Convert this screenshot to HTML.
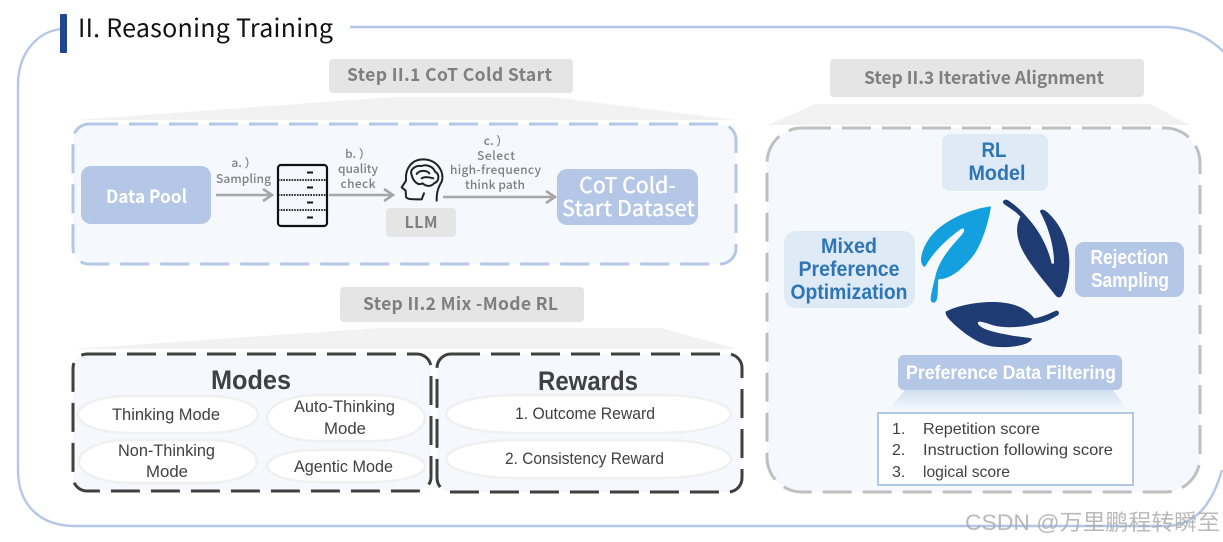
<!DOCTYPE html>
<html><head><meta charset="utf-8"><style>
html,body{margin:0;padding:0;background:#fff;width:1223px;height:542px;overflow:hidden}
svg{display:block}
.j{font-family:"Noto Sans CJK JP","Liberation Sans",sans-serif}
.l{font-family:"Liberation Sans","Noto Sans CJK SC",sans-serif}
</style></head><body>
<svg width="1223" height="542" viewBox="0 0 1223 542" xmlns="http://www.w3.org/2000/svg">
<defs>
<linearGradient id="g1" x1="0" y1="0" x2="0" y2="1"><stop offset="0" stop-color="#cfdff0"/><stop offset="1" stop-color="#f5f9fd"/></linearGradient>
<marker id="ah" markerWidth="14" markerHeight="16" refX="11" refY="7" orient="auto" markerUnits="userSpaceOnUse"><path d="M2 1L11 7L2 13" fill="none" stroke="#a6a6a6" stroke-width="2.600"/></marker>
</defs>

<!-- outer frame -->
<path d="M350 27H1165C1200 27 1223 48 1240 70M60 29C35 33 18 55 18 85V470C18 505 40 526 75 526H1165C1195 526 1212 505 1222 470" fill="none" stroke="#b4c7e7" stroke-width="2.400"/>
<rect x="60" y="14" width="7" height="39" rx="1" fill="#1f4690"/>
<text class="j" x="78" y="37" font-size="25" font-weight="400" fill="#111" textLength="255" lengthAdjust="spacing">II. Reasoning Training</text>

<!-- trapezoids -->
<path d="M75 120L395 97H552L736 120Z" fill="#f2f2f2"/>
<path d="M768 125L815 104H1150L1190 125Z" fill="#f2f2f2"/>
<path d="M72 349L380 328H660L738 349Z" fill="#f2f2f2"/>

<!-- step heads -->
<rect x="329" y="59" width="244" height="34" rx="4" fill="#e5e5e5"/>
<text class="j" x="347" y="81" font-size="17.500" font-weight="700" fill="#7f7f7f" textLength="205" lengthAdjust="spacing">Step II.1 CoT Cold Start</text>
<rect x="830" y="59" width="314" height="38" rx="4" fill="#e5e5e5"/>
<text class="j" x="864" y="84" font-size="17.500" font-weight="700" fill="#7f7f7f" textLength="240" lengthAdjust="spacing">Step II.3 Iterative Alignment</text>
<rect x="340" y="287" width="244" height="35" rx="4" fill="#e5e5e5"/>
<text class="j" x="363" y="310" font-size="17.500" font-weight="700" fill="#7f7f7f" textLength="195" lengthAdjust="spacing">Step II.2 Mix -Mode RL</text>

<!-- panels -->
<rect x="73" y="124" width="663" height="140" rx="16" fill="#f5f9fd" stroke="#b4c7e7" stroke-width="3" stroke-dasharray="29 11"/>
<rect x="767" y="128" width="433" height="364" rx="35" fill="#f5f9fd" stroke="#bfbfbf" stroke-width="3" stroke-dasharray="29 11"/>
<rect x="73" y="354" width="358" height="137" rx="14" fill="#f5f9fd" stroke="#404040" stroke-width="3" stroke-dasharray="29 11"/>
<rect x="437" y="354" width="305" height="138" rx="14" fill="#f5f9fd" stroke="#404040" stroke-width="3" stroke-dasharray="29 11"/>

<!-- panel 1 contents -->
<rect x="81" y="166" width="130" height="58" rx="10" fill="#b4c7e7"/>
<text class="j" x="106" y="203" font-size="18" font-weight="700" fill="#fff" textLength="81" lengthAdjust="spacingAndGlyphs">Data Pool</text>
<g class="j" font-size="12" fill="#7f7f7f" text-anchor="middle" font-weight="500">
<text x="244" y="167">a. ）</text><text x="243.500" y="183" textLength="55" lengthAdjust="spacing">Sampling</text>
<text x="358" y="158">b. ）</text><text x="358" y="173" textLength="40" lengthAdjust="spacing">quality</text><text x="358" y="188" textLength="35" lengthAdjust="spacing">check</text>
<text x="496" y="145">c. ）</text><text x="496" y="160" textLength="38" lengthAdjust="spacing">Select</text><text x="495.500" y="174" textLength="91" lengthAdjust="spacing">high-frequency</text><text x="495" y="189" textLength="60" lengthAdjust="spacing">think path</text>
</g>
<path d="M216 195H272" stroke="#a6a6a6" stroke-width="2.600" fill="none" marker-end="url(#ah)"/>
<path d="M329 195H393" stroke="#a6a6a6" stroke-width="2.600" fill="none" marker-end="url(#ah)"/>
<path d="M443 197H555" stroke="#a6a6a6" stroke-width="2.600" fill="none" marker-end="url(#ah)"/>
<!-- server -->
<rect x="278" y="165" width="49" height="61" rx="3" fill="#f5f9fd" stroke="#111" stroke-width="2.200"/>
<g stroke="#111" stroke-width="1.800" stroke-dasharray="1.600 1.100">
<path d="M278 180H327M278 195H327M278 210H327"/>
</g>
<g stroke="#111" stroke-width="2"><path d="M307 172.500H313M307 187.500H313M307 202.500H313M307 217.500H313"/></g>
<!-- brain -->
<g transform="translate(270,150) scale(.3333)" fill="none" stroke="#222" stroke-width="6" stroke-linecap="round" stroke-linejoin="round">
<path d="M500 152C500 125 505 112 515 95C525 65 500 28 460 28C425 28 405 55 408 92L395 112L407 122L408 140C410 148 420 148 455 148L462 130"/>
<path d="M425 75C418 60 435 45 455 48C470 42 490 50 495 65C510 72 508 95 492 100C482 112 465 108 458 100C445 108 430 95 425 75Z"/>
<path d="M440 72C448 60 470 60 478 70M455 85C465 78 480 82 490 85"/>
</g>
<rect x="386" y="208" width="70" height="29" rx="4" fill="#e5e5e5"/>
<text class="j" x="421" y="228" font-size="16" font-weight="700" fill="#7f7f7f" text-anchor="middle" textLength="33" lengthAdjust="spacing">LLM</text>
<rect x="557" y="169" width="141" height="56" rx="10" fill="#b4c7e7"/>
<text class="j" x="579" y="193" font-size="21.500" font-weight="500" fill="#fff" textLength="97" lengthAdjust="spacing">CoT Cold-</text>
<text class="j" x="562" y="216" font-size="21.500" font-weight="500" fill="#fff" textLength="133" lengthAdjust="spacing">Start Dataset</text>

<!-- panel 3 contents -->
<rect x="942" y="134" width="106" height="57" rx="8" fill="#deeaf6"/>
<g class="l" font-size="21" font-weight="700" fill="#2e75b6" text-anchor="middle">
<text x="994" y="157" textLength="25" lengthAdjust="spacingAndGlyphs">RL</text><text x="997" y="180" textLength="57" lengthAdjust="spacingAndGlyphs">Model</text>
</g>
<rect x="784" y="231" width="131" height="77" rx="12" fill="#deeaf6"/>
<g class="l" font-size="21" font-weight="700" fill="#2e75b6" text-anchor="middle">
<text x="849" y="253" textLength="56" lengthAdjust="spacingAndGlyphs">Mixed</text>
<text x="849" y="276" textLength="101" lengthAdjust="spacingAndGlyphs">Preference</text>
<text x="849" y="299" textLength="117" lengthAdjust="spacingAndGlyphs">Optimization</text>
</g>
<rect x="1075" y="242" width="109" height="55" rx="9" fill="#b4c7e7"/>
<g class="l" font-size="20" font-weight="700" fill="#fff" text-anchor="middle">
<text x="1129.500" y="264" textLength="78" lengthAdjust="spacingAndGlyphs">Rejection</text>
<text x="1130" y="287" textLength="78" lengthAdjust="spacingAndGlyphs">Sampling</text>
</g>
<g transform="translate(915,190) scale(.3333)">
<path fill="#14a0de" d="M228 49C170 56 100 85 60 125C35 150 18 185 18 210C20 228 28 235 33 226C50 195 90 150 140 116C150 114 150 122 140 135C110 168 75 205 62 255C55 285 47 315 47 328C48 340 60 342 65 330C70 310 68 285 70 268C110 268 150 230 180 190C205 150 222 90 228 49Z"/>
<path fill="#1f3b73" d="M265 33C268 27 277 28 285 35C310 52 340 82 365 118C390 155 403 190 410 221L417 221C418 170 400 110 375 65C375 58 385 56 395 65C430 95 460 145 463 210C465 260 448 310 438 320C430 325 425 322 415 308C385 270 345 225 322 180C305 145 300 110 316 80C300 62 280 52 267 42C264 39 263 36 265 33Z"/>
<path fill="#1f3b73" d="M92 365C130 345 190 335 240 336C290 338 330 350 358 385C380 382 405 370 423 362C432 362 435 370 428 376C405 390 385 398 360 402C320 413 270 415 235 406C215 400 195 392 190 396C185 402 195 410 210 417C250 432 310 440 350 445C352 450 345 455 335 460C310 470 270 474 235 470C190 462 150 432 120 405C105 390 90 378 92 365Z"/>
</g>
<rect x="898" y="355" width="224" height="35" rx="6" fill="#b4c7e7"/>
<text class="l" x="906" y="379" font-size="19" font-weight="700" fill="#fff" textLength="210" lengthAdjust="spacingAndGlyphs">Preference Data Filtering</text>
<path d="M905 390H1113L1128 410H888Z" fill="url(#g1)"/>
<rect x="878" y="413" width="255" height="72" fill="#fff" stroke="#b4c7e7" stroke-width="2"/>
<g class="l" font-size="16" fill="#404040">
<text x="892" y="434">1.</text><text x="923" y="434" textLength="117" lengthAdjust="spacingAndGlyphs">Repetition score</text>
<text x="892" y="455">2.</text><text x="923" y="455" textLength="190" lengthAdjust="spacingAndGlyphs">Instruction following score</text>
<text x="892" y="477">3.</text><text x="923" y="477" textLength="87" lengthAdjust="spacingAndGlyphs">logical score</text>
</g>

<!-- modes -->
<g fill="#fff" stroke="#f0f0f0" stroke-width="2.500">
<rect x="78" y="396" width="180" height="37" rx="50" ry="18.500"/>
<rect x="267" y="395" width="158" height="46" rx="50" ry="23"/>
<rect x="79" y="440" width="178" height="43" rx="50" ry="21.500"/>
<rect x="267" y="450" width="158" height="32" rx="50" ry="16"/>
<rect x="446" y="395" width="285" height="38" rx="70" ry="19"/>
<rect x="446" y="440" width="285" height="38" rx="70" ry="19"/>
</g>
<text class="l" x="211" y="389" font-size="27" font-weight="700" fill="#404040" textLength="80" lengthAdjust="spacingAndGlyphs">Modes</text>
<text class="l" x="538" y="390" font-size="27" font-weight="700" fill="#404040" textLength="100" lengthAdjust="spacingAndGlyphs">Rewards</text>
<g class="l" font-size="17" fill="#404040">
<text x="112" y="420" textLength="108" lengthAdjust="spacingAndGlyphs">Thinking Mode</text>
<text x="294" y="412" textLength="101" lengthAdjust="spacingAndGlyphs">Auto-Thinking</text>
<text x="324" y="434" textLength="42" lengthAdjust="spacingAndGlyphs">Mode</text>
<text x="118" y="456" textLength="97" lengthAdjust="spacingAndGlyphs">Non-Thinking</text>
<text x="146" y="477" textLength="42" lengthAdjust="spacingAndGlyphs">Mode</text>
<text x="294" y="472" textLength="99" lengthAdjust="spacingAndGlyphs">Agentic Mode</text>
<text x="515" y="419" textLength="140" lengthAdjust="spacingAndGlyphs">1. Outcome Reward</text>
<text x="505" y="464" textLength="159" lengthAdjust="spacingAndGlyphs">2. Consistency Reward</text>
</g>

<!-- watermark -->
<text class="l" x="965" y="530" font-size="22" fill="#a8a8a8" fill-opacity=".8" textLength="255" lengthAdjust="spacingAndGlyphs">CSDN @万里鹏程转瞬至</text>
</svg>
</body></html>
